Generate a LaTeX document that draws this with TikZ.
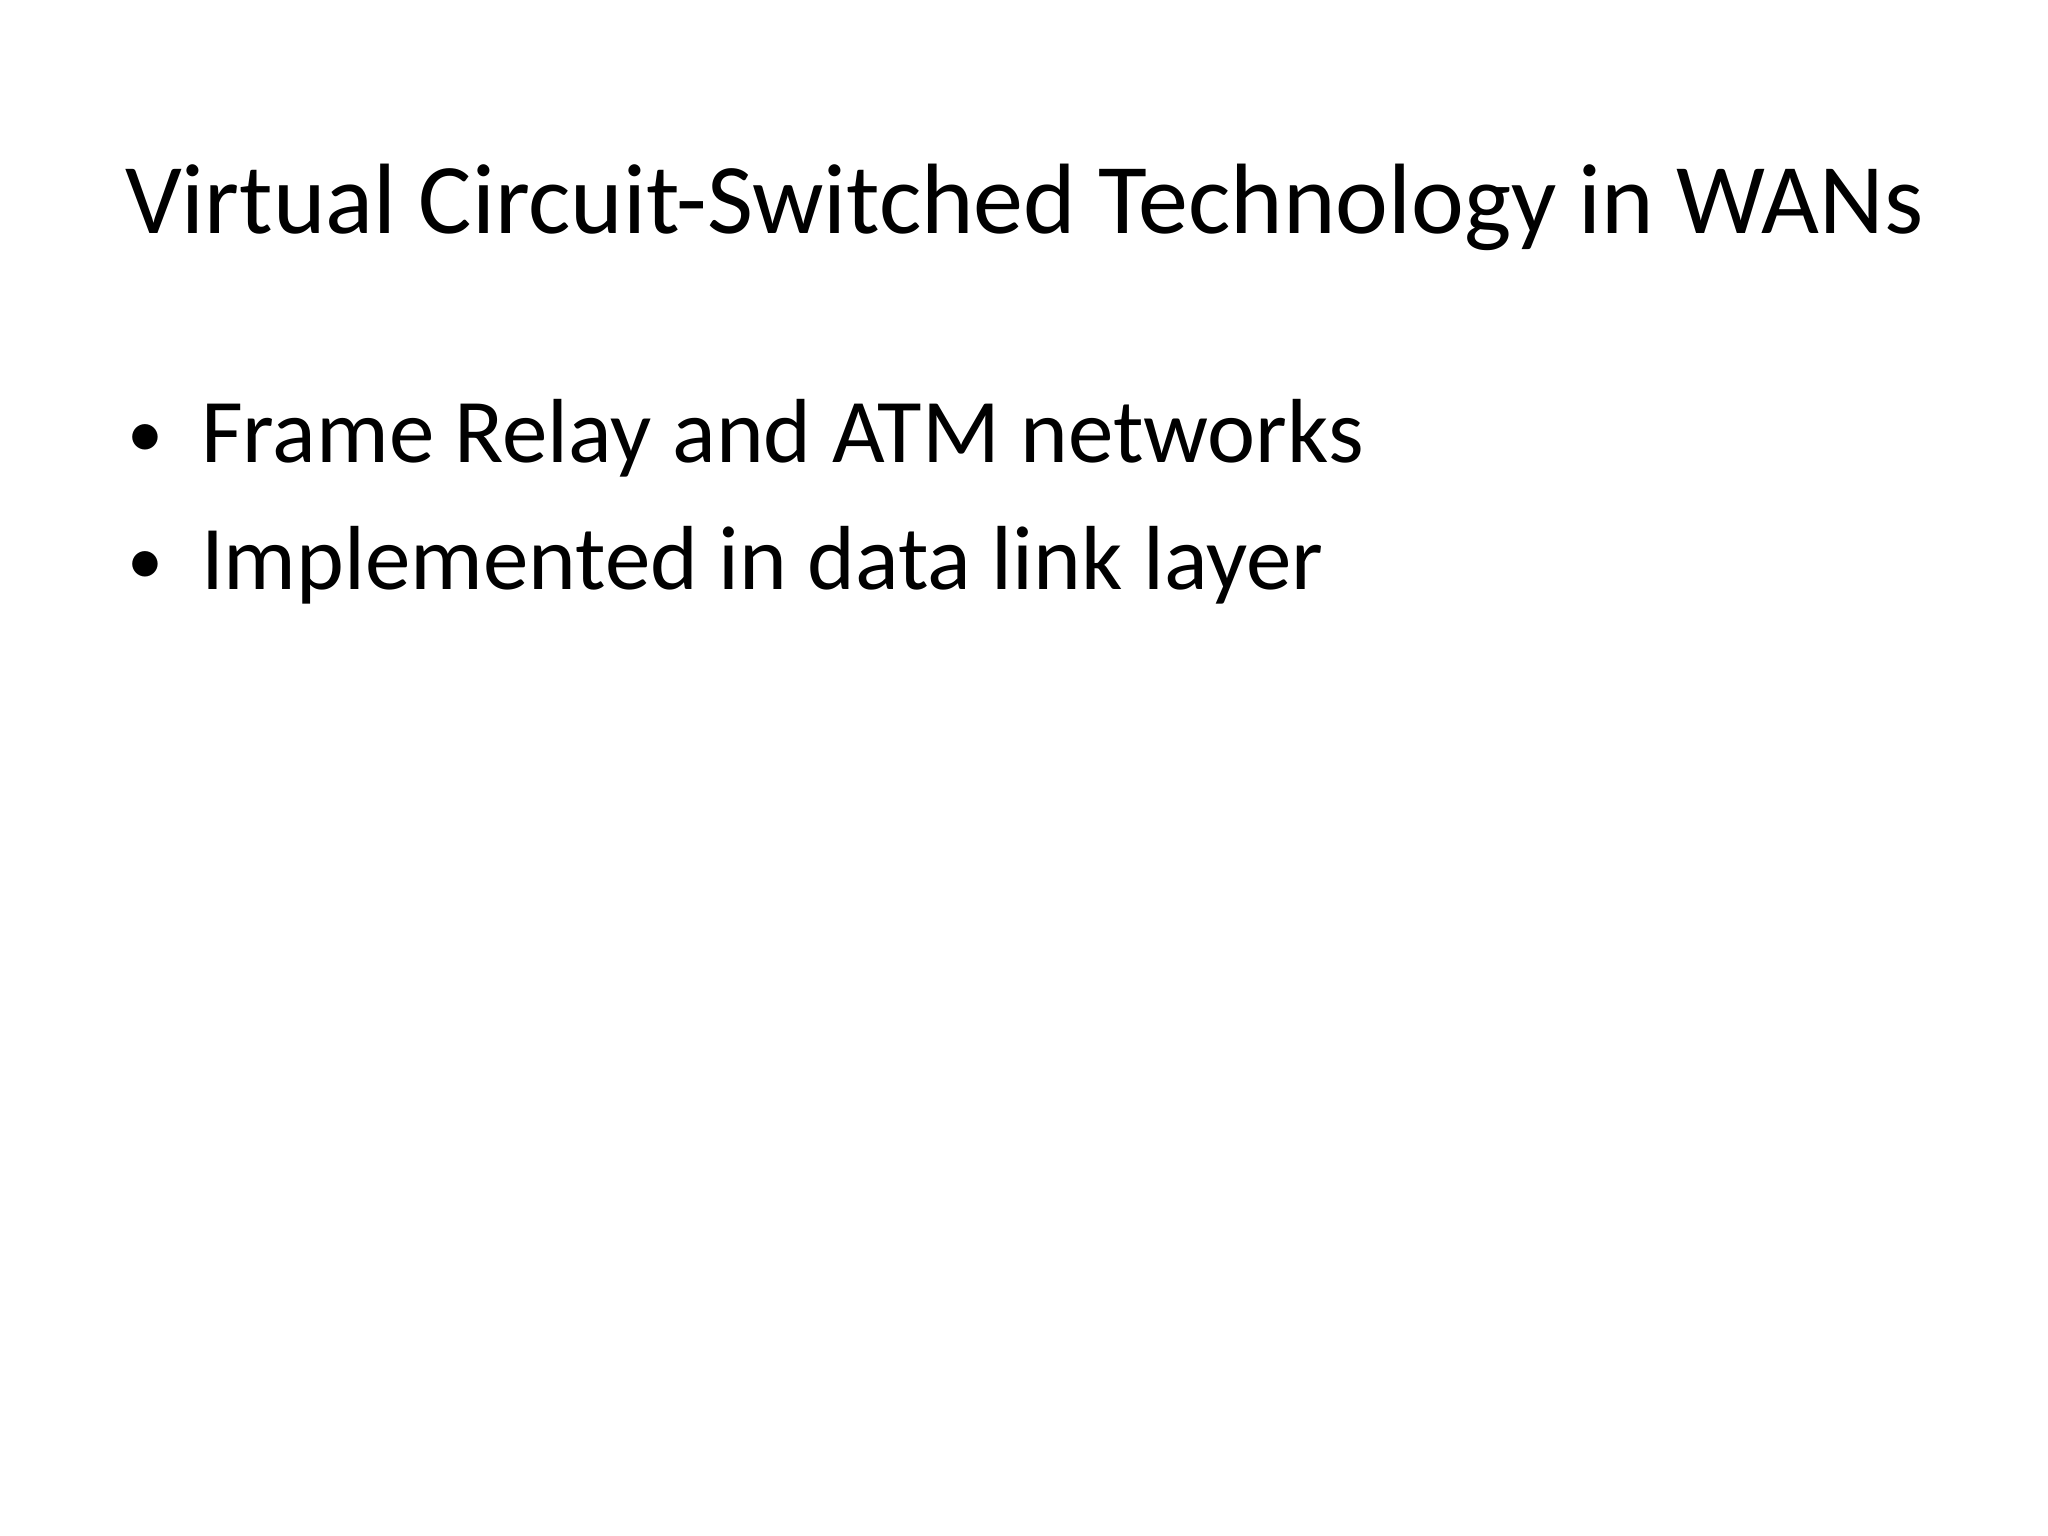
\documentclass[tikz,border=0pt]{standalone}
\usepackage{fontspec}
\setmainfont{Carlito}
\begin{document}
\begin{tikzpicture}[x=1pt,y=1pt,
  txt/.style={anchor=base west,inner sep=0pt,outer sep=0pt},
  body/.style={txt,font=\fontsize{91}{110}\selectfont},
  bul/.style={txt,font=\fontsize{72}{90}\selectfont}]
\useasboundingbox (0,0) rectangle (2048,1536);
\node[txt,font=\fontsize{100}{120}\selectfont] (title) at (125,1536-234) {Virtual Circuit-Switched Technology in WANs};
\node[bul] (b1) at (127,1536-458) {\textbullet};
\node[body] (t1) at (201,1536-463) {Frame Relay and ATM networks};
\node[bul] (b2) at (127,1536-585) {\textbullet};
\node[body] (t2) at (201,1536-590) {Implemented in data link layer};
\end{tikzpicture}
\end{document}
